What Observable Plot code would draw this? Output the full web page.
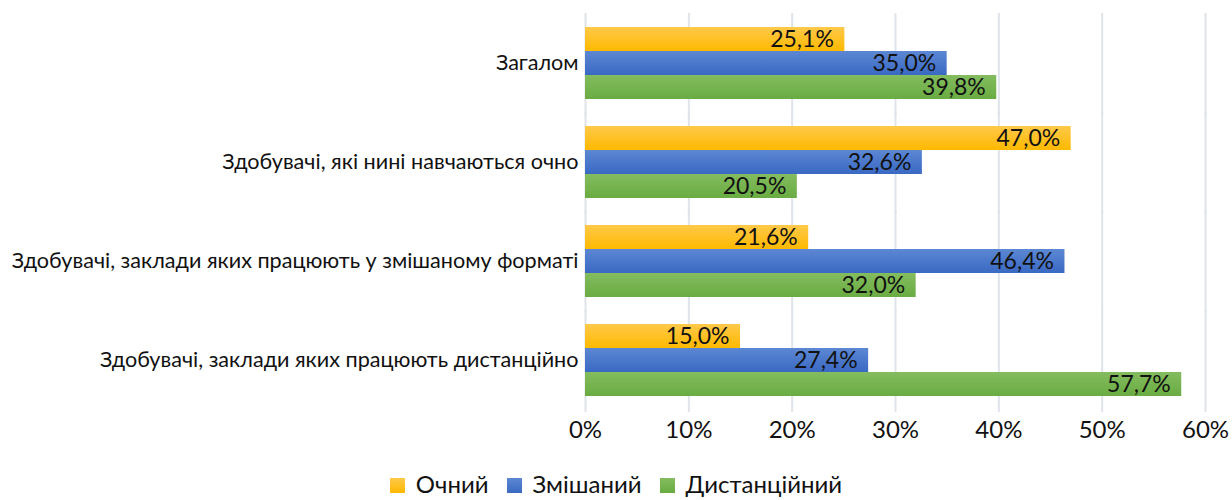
<!DOCTYPE html>
<html>
<head>
<meta charset="utf-8">
<script src="https://cdn.jsdelivr.net/npm/d3@7"></script>
<script src="https://cdn.jsdelivr.net/npm/@observablehq/plot@0.6"></script>
<style>
  body { margin: 0; background: #fff; font-family: Lato, "Noto Sans", sans-serif; }
  #legend { display: flex; justify-content: center; align-items: center; gap: 18px; font-family: Lato, "Noto Sans", sans-serif; font-size: 24px; line-height: 28px; color: #111; margin-top: 15px; padding-left: 0px; }
  #legend .item { display: flex; align-items: center; gap: 11px; }
  #legend .sw { width: 15px; height: 15px; display: inline-block; margin-top: 3px; }
</style>
</head>
<body>
<div id="chart"></div>
<div id="legend"></div>
<script>
const categories = [
  "Загалом",
  "Здобувачі, які нині навчаються очно",
  "Здобувачі, заклади яких працюють у змішаному форматі",
  "Здобувачі, заклади яких працюють дистанційно"
];
const series = ["Очний", "Змішаний", "Дистанційний"];
const ochnyi = [25.1, 47.0, 21.6, 15.0];
const zmishanyi = [35.0, 32.6, 46.4, 27.4];
const dystantsiinyi = [39.8, 20.5, 32.0, 57.7];
const xTicks = [0, 10, 20, 30, 40, 50, 60];

const seriesValues = [ochnyi, zmishanyi, dystantsiinyi];
const gradIds = ["gY", "gB", "gG"];
const gradStops = [["#FFC94A", "#FFB900"], ["#5C87D3", "#3A69C3"], ["#84BC5F", "#69AC42"]];

const data = [];
categories.forEach((c, i) => series.forEach((s, j) => data.push({category: c, series: s, value: seriesValues[j][i]})));

const fmt = v => v.toFixed(1).replace(".", ",") + "%";
const FONT = "Lato, 'Noto Sans', sans-serif";

const plot = Plot.plot({
  width: 1232,
  height: 455,
  marginLeft: 585,
  marginRight: 27,
  marginTop: 12,
  marginBottom: 43,
  style: {fontFamily: FONT, fontSize: "21px", color: "#111", background: "#fff", overflow: "visible"},
  x: {domain: [0, 60]},
  y: {domain: series, padding: 0, axis: null},
  fy: {domain: categories, paddingInner: 0.25, paddingOuter: 0.14},
  color: {domain: series, range: gradIds.map(id => `url(#${id})`)},
  marks: [
    Plot.ruleX(xTicks, {x: d => d, stroke: "#DFE3EA", strokeWidth: 2, insetTop: -13, insetBottom: -15}),
    Plot.barX(data, {x: "value", y: "series", fy: "category", fill: "series"}),
    Plot.text(data, {x: "value", y: "series", fy: "category", text: d => fmt(d.value), textAnchor: "end", dx: -11, fontSize: 23, fill: "#111", fontFamily: FONT}),
    Plot.axisX({ticks: xTicks, tickFormat: d => d + "%", tickSize: 0, tickPadding: 23, label: null, fontSize: 24, fontFamily: FONT}),
    Plot.axisFy({anchor: "left", tickSize: 0, tickPadding: 7, label: null, fontSize: 21.6, fontFamily: FONT})
  ]
});

const ns = "http://www.w3.org/2000/svg";
const defs = document.createElementNS(ns, "defs");
gradIds.forEach((id, k) => {
  const lg = document.createElementNS(ns, "linearGradient");
  lg.setAttribute("id", id);
  lg.setAttribute("x1", "0"); lg.setAttribute("y1", "0");
  lg.setAttribute("x2", "0"); lg.setAttribute("y2", "1");
  [[0, gradStops[k][0]], [1, gradStops[k][1]]].forEach(([o, c]) => {
    const st = document.createElementNS(ns, "stop");
    st.setAttribute("offset", o);
    st.setAttribute("stop-color", c);
    lg.appendChild(st);
  });
  defs.appendChild(lg);
});
plot.insertBefore(defs, plot.firstChild);
document.getElementById("chart").appendChild(plot);

const legend = document.getElementById("legend");
series.forEach((s, j) => {
  const it = document.createElement("span");
  it.className = "item";
  it.innerHTML = `<span class="sw" style="background:linear-gradient(${gradStops[j][0]},${gradStops[j][1]})"></span><span>${s}</span>`;
  legend.appendChild(it);
});
</script>
</body>
</html>
